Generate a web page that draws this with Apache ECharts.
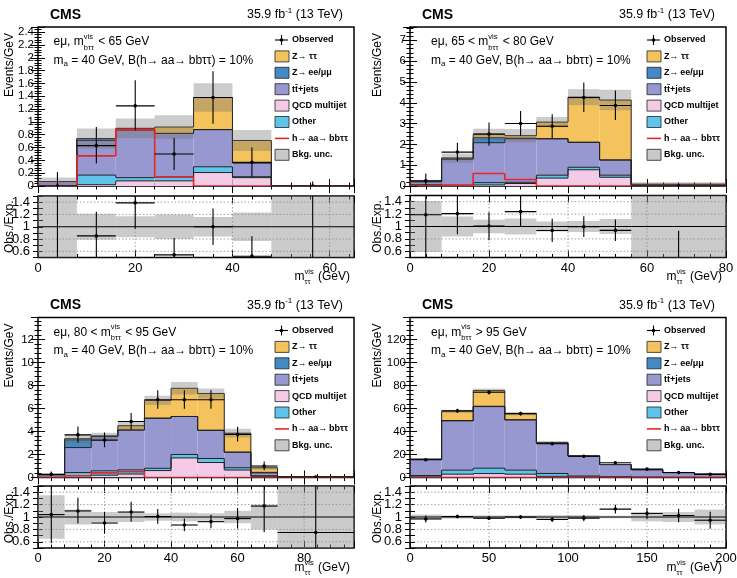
<!DOCTYPE html>
<html>
<head>
<meta charset="utf-8">
<script src="https://cdn.jsdelivr.net/npm/echarts@6/dist/echarts.min.js"></script>
<style>
html, body { margin: 0; background: #fff; }
#chart { width: 737px; height: 578px; }
</style>
</head>
<body>
<div id="chart"></div>
<script>
// ---- panel 1 : m_btt^vis < 65 GeV (events / GeV)
var edges1  = [0, 8, 16, 24, 32, 40, 48, 65];
var qcd1    = [0.0, 0.02, 0.08, 0.08, 0.21, 0.13, 0.0];
var oth1    = [0.0, 0.15, 0.05, 0.06, 0.09, 0.015, 0.0];
var tt1     = [0.07, 0.54, 0.74, 0.68, 0.58, 0.215, 0.004];
var zll1    = [0.0, 0.03, 0.02, 0.0, 0.0, 0.0, 0.0];
var ztt1    = [0.0, 0.0, 0.01, 0.10, 0.50, 0.35, 0.0];
var sig1    = [0.0, 0.47, 0.88, 0.14, 0.0, 0.0, 0.0];
var obs1    = [0.0, 0.63, 1.25, 0.50, 1.38, 0.37, 0.0];
var errLo1  = [0.0, 0.28, 0.38, 0.25, 0.41, 0.22, 0.0];
var errHi1  = [0.22, 0.29, 0.40, 0.25, 0.41, 0.23, 0.07];
var unc1    = [0.9, 0.21, 0.17, 0.20, 0.16, 0.23, 1.0];

// ---- panel 2 : 65 < m_btt^vis < 80 GeV
var edges2  = [0, 8, 16, 24, 32, 40, 48, 56, 80];
var qcd2    = [0.02, 0.01, 0.05, 0.12, 0.38, 0.78, 0.42, 0.0];
var oth2    = [0.04, 0.03, 0.11, 0.06, 0.14, 0.12, 0.10, 0.0];
var tt2     = [0.15, 1.25, 1.92, 2.09, 1.75, 1.20, 0.73, 0.05];
var zll2    = [0.0, 0.01, 0.24, 0.03, 0.0, 0.0, 0.0, 0.0];
var ztt2    = [0.0, 0.05, 0.16, 0.12, 0.80, 2.17, 2.88, 0.04];
var sig2    = [0.0, 0.03, 0.60, 0.31, 0.0, 0.0, 0.0, 0.0];
var obs2    = [0.25, 1.63, 2.50, 3.00, 2.87, 4.25, 3.87, 0.0];
var errLo2  = [0.20, 0.45, 0.57, 0.60, 0.57, 0.70, 0.70, 0.0];
var errHi2  = [0.35, 0.45, 0.55, 0.60, 0.58, 0.72, 0.72, 0.084];
var unc2    = [0.41, 0.16, 0.11, 0.13, 0.08, 0.09, 0.12, 1.0];

// ---- panel 3 : 80 < m_btt^vis < 95 GeV
var edges3  = [0, 8, 16, 24, 32, 40, 48, 56, 64, 72, 95];
var qcd3    = [0.0, 0.15, 0.20, 0.30, 0.60, 1.70, 1.30, 0.65, 0.10, 0.0];
var oth3    = [0.02, 0.28, 0.38, 0.36, 0.20, 0.30, 0.35, 0.20, 0.05, 0.0];
var tt3     = [0.22, 2.17, 2.97, 3.47, 4.35, 3.30, 2.45, 1.35, 0.25, 0.04];
var zll3    = [0.0, 0.67, 0.05, 0.0, 0.0, 0.0, 0.0, 0.0, 0.05, 0.0];
var ztt3    = [0.02, 0.10, 0.0, 0.37, 1.55, 2.45, 3.20, 1.65, 0.40, 0.02];
var sig3    = [0.0, 0.15, 0.40, 0.50, 0.0, 0.0, 0.0, 0.0, 0.0, 0.0];
var obs3    = [0.27, 3.70, 3.25, 4.86, 6.75, 6.75, 6.75, 3.75, 1.00, 0.045];
var errLo3  = [0.12, 0.68, 0.62, 0.70, 0.78, 0.78, 0.78, 0.62, 0.36, 0.04];
var errHi3  = [0.25, 0.72, 0.65, 0.75, 0.82, 0.82, 0.82, 0.66, 0.40, 0.10];
var unc3    = [0.35, 0.12, 0.08, 0.08, 0.06, 0.07, 0.06, 0.10, 0.20, 1.0];

// ---- panel 4 : m_btt^vis > 95 GeV
var edges4  = [0, 20, 40, 60, 80, 100, 120, 140, 160, 180, 200];
var qcd4    = [0.5, 2.9, 3.4, 2.9, 1.0, 0.4, 0.2, 0.1, 0.05, 0.05];
var oth4    = [1.2, 3.5, 4.7, 3.5, 2.5, 0.9, 0.5, 0.3, 0.2, 0.1];
var tt4     = [14.0, 42.8, 53.5, 43.6, 26.3, 17.3, 10.5, 6.4, 4.0, 2.7];
var zll4    = [0.1, 0.3, 0.3, 0.2, 0.1, 0.05, 0.05, 0.0, 0.0, 0.0];
var ztt4    = [0.1, 8.0, 13.6, 5.3, 0.6, 0.2, 0.1, 0.1, 0.05, 0.05];
var sig4    = [0.0, 0.0, 0.0, 0.0, 0.0, 0.0, 0.0, 0.0, 0.0, 0.0];
var obs4    = [15.4, 58.0, 74.0, 55.5, 29.3, 18.5, 12.8, 7.3, 4.4, 2.75];
var errLo4  = [0.9, 1.7, 1.9, 1.7, 1.2, 0.95, 0.8, 0.6, 0.47, 0.4];
var errHi4  = [0.9, 1.7, 1.9, 1.7, 1.2, 0.95, 0.8, 0.6, 0.47, 0.4];
var unc4    = [0.04, 0.025, 0.025, 0.025, 0.03, 0.03, 0.02, 0.07, 0.08, 0.12];

// axis ranges / ticks
var xMaxes  = [65, 80, 95, 200];
var xSteps  = [20, 20, 20, 50];
var yMaxes  = [2.48, 7.64, 13.9, 139];
var ySteps  = [0.2, 1, 2, 20];
var ratioMin = 0.5, ratioMax = 1.5, ratioStep = 0.1;
var ratioGrid = [0.6, 0.8, 1.2, 1.4];

// text
var cutPre  = ['e\u03bc, m', 'e\u03bc, 65 < m', 'e\u03bc, 80 < m', 'e\u03bc, m'];
var cutPost = [' < 65 GeV', ' < 80 GeV', ' < 95 GeV', ' > 95 GeV'];
var legendLabels = ['Observed', 'Z\u2192 \u03c4\u03c4', 'Z\u2192\u2009ee/\u03bc\u03bc', 'tt\u0304+jets',
                    'QCD multijet', 'Other', 'h\u2192\u2009aa\u2192\u2009bb\u03c4\u03c4', 'Bkg. unc.'];
var legendKeys = ['obs', 'ztt', 'zll', 'tt', 'qcd', 'oth', 'sig', 'unc'];

var panels = [
    {edges: edges1, qcd: qcd1, oth: oth1, tt: tt1, zll: zll1, ztt: ztt1, sig: sig1, obs: obs1, lo: errLo1, hi: errHi1, unc: unc1},
    {edges: edges2, qcd: qcd2, oth: oth2, tt: tt2, zll: zll2, ztt: ztt2, sig: sig2, obs: obs2, lo: errLo2, hi: errHi2, unc: unc2},
    {edges: edges3, qcd: qcd3, oth: oth3, tt: tt3, zll: zll3, ztt: ztt3, sig: sig3, obs: obs3, lo: errLo3, hi: errHi3, unc: unc3},
    {edges: edges4, qcd: qcd4, oth: oth4, tt: tt4, zll: zll4, ztt: ztt4, sig: sig4, obs: obs4, lo: errLo4, hi: errHi4, unc: unc4}
];

// pixel layout of each pad
var layout = [
    {left: 38,  top: 27,    w: 316, h: 159, rTop: 196,   rH: 61.5, yTitleX: 10,  infoDx: 15.5},
    {left: 410, top: 27,    w: 316, h: 159, rTop: 195.5, rH: 62,   yTitleX: 378, infoDx: 21},
    {left: 38,  top: 317.5, w: 316, h: 160, rTop: 486,   rH: 62,   yTitleX: 10,  infoDx: 15.5},
    {left: 410, top: 317.5, w: 316, h: 160, rTop: 486,   rH: 62,   yTitleX: 378, infoDx: 21}
];

var FONT = '"Liberation Sans", Arial, Helvetica, sans-serif';
var COLORS = {qcd: '#f3cbe6', oth: '#5ec4ea', tt: '#9898d0', zll: '#4489c6', ztt: '#f4c35e',
              sig: '#e8252b', unc: 'rgba(110,110,110,0.35)'};

var chart = echarts.init(document.getElementById('chart'));

function fmtStep(step) {
    return function (v) {
        var k = v / step;
        if (Math.abs(k - Math.round(k)) > 1e-6) return '';
        return String(+(Math.round(k) * step).toFixed(4));
    };
}
function ratioFmt(v) {
    var r = Math.round(v * 10);
    if (r % 2 !== 0 || r < 6 || r > 14) return '';
    return String(r / 10);
}

// ---- renderers
function fillRect(color) {
    return function (params, api) {
        var a = api.coord([api.value(0), api.value(2)]);
        var b = api.coord([api.value(1), api.value(3)]);
        return {type: 'rect', shape: {x: a[0], y: b[1], width: b[0] - a[0], height: a[1] - b[1]},
                style: {fill: color}};
    };
}
function stepLine(color, width) {
    return function (params, api) {
        var x0 = api.value(0), x1 = api.value(1), t = api.value(2), pt = api.value(3);
        var pts = [api.coord([x0, pt]), api.coord([x0, t]), api.coord([x1, t])];
        if (api.value(4)) pts.push(api.coord([x1, 0]));
        return {type: 'polyline', shape: {points: pts}, style: {stroke: color, lineWidth: width, fill: null}};
    };
}
function errPoint(params, api) {
    var x0 = api.value(0), x1 = api.value(1), y = api.value(2), lo = api.value(3), hi = api.value(4);
    var xc = (x0 + x1) / 2;
    var pL = api.coord([x0, y]), pR = api.coord([x1, y]);
    var pB = api.coord([xc, y - lo]), pT = api.coord([xc, y + hi]), pC = api.coord([xc, y]);
    var st = {stroke: '#000', lineWidth: 1.1};
    return {type: 'group', children: [
        {type: 'line', shape: {x1: pL[0], y1: pL[1], x2: pR[0], y2: pR[1]}, style: st},
        {type: 'line', shape: {x1: pB[0], y1: pB[1], x2: pT[0], y2: pT[1]}, style: st},
        {type: 'circle', shape: {cx: pC[0], cy: pC[1], r: 1.8}, style: {fill: '#000'}}
    ]};
}
function gridLine(params, api) {
    var a = api.coord([api.value(0), api.value(1)]);
    var b = api.coord([api.value(2), api.value(3)]);
    var solid = api.value(4) === 1;
    return {type: 'line', shape: {x1: a[0], y1: a[1], x2: b[0], y2: b[1]},
            style: {stroke: solid ? '#000' : '#8a8a8a', lineWidth: solid ? 1 : 0.8,
                    lineDash: solid ? null : [1.5, 2]}};
}

var grids = [], xAxes = [], yAxes = [], series = [];

function tickCommon() {
    return {
        axisLine: {show: false},
        splitLine: {show: false},
        axisTick: {show: true, inside: true, length: 7, lineStyle: {color: '#000', width: 1}},
        minorTick: {show: true, splitNumber: 5, length: 3.5, lineStyle: {color: '#000', width: 1}}
    };
}

panels.forEach(function (P, p) {
    var L = layout[p];
    var gm = 2 * p, gr = 2 * p + 1;
    // every grid owns two x axes (bottom, top) and two y axes (left, right)
    var am = 2 * gm, ar = 2 * gr;
    var nb = P.edges.length - 1;

    grids.push({left: L.left, top: L.top, width: L.w, height: L.h, show: true,
                borderColor: '#000', borderWidth: 1.5, outerBoundsMode: 'none'});
    grids.push({left: L.left, top: L.rTop, width: L.w, height: L.rH, show: true,
                borderColor: '#000', borderWidth: 1.5, outerBoundsMode: 'none'});

    [gm, gr].forEach(function (g) {
        var isRatio = g === gr;
        var base = {gridIndex: g, type: 'value', min: 0, max: xMaxes[p], interval: xSteps[p]};
        xAxes.push(Object.assign({}, base, tickCommon(), {position: 'bottom',
            axisLabel: {show: isRatio, margin: 4, fontSize: 13, color: '#000', fontFamily: FONT,
                        formatter: fmtStep(xSteps[p])}}));
        xAxes.push(Object.assign({}, base, tickCommon(), {position: 'top', axisLabel: {show: false}}));
        var yb = isRatio
            ? {gridIndex: g, type: 'value', min: ratioMin, max: ratioMax, interval: ratioStep}
            : {gridIndex: g, type: 'value', min: 0, max: yMaxes[p], interval: ySteps[p]};
        var yl = tickCommon();
        if (isRatio) { yl.axisTick.length = 5; yl.minorTick.show = false; }
        yAxes.push(Object.assign({}, yb, yl, {position: 'left',
            axisLabel: {show: true, margin: isRatio ? 8 : 4, fontSize: isRatio ? 13 : 11.5, color: '#000',
                        fontFamily: FONT, formatter: isRatio ? ratioFmt : fmtStep(ySteps[p])}}));
        var yr = tickCommon();
        if (isRatio) { yr.axisTick.length = 5; yr.minorTick.show = false; }
        yAxes.push(Object.assign({}, yb, yr, {position: 'right', axisLabel: {show: false}}));
    });

    // stacked backgrounds, bottom to top
    var total = [], cum = [];
    for (var i = 0; i < nb; i++) {
        total.push(P.qcd[i] + P.oth[i] + P.tt[i] + P.zll[i] + P.ztt[i]);
        cum.push(0);
    }
    var outlineData = [];
    ['qcd', 'oth', 'tt', 'zll', 'ztt'].forEach(function (key) {
        var items = [];
        for (var i = 0; i < nb; i++) {
            items.push([P.edges[i], P.edges[i + 1], cum[i], cum[i] + P[key][i]]);
            cum[i] += P[key][i];
        }
        series.push({type: 'custom', xAxisIndex: am, yAxisIndex: am, clip: true, silent: true, z: 2,
                     data: items, renderItem: fillRect(COLORS[key])});
        for (var j = 0; j < nb; j++) {
            outlineData.push([P.edges[j], P.edges[j + 1], cum[j], j > 0 ? cum[j - 1] : 0, j === nb - 1 ? 1 : 0]);
        }
    });
    series.push({type: 'custom', xAxisIndex: am, yAxisIndex: am, clip: true, silent: true, z: 3,
                 data: outlineData, renderItem: stepLine('#222', 1)});

    // background uncertainty band, signal, observed
    var bandMain = [], bandRatio = [], sigData = [], obsMain = [], obsRatio = [];
    for (var k = 0; k < nb; k++) {
        var x0 = P.edges[k], x1 = P.edges[k + 1], t = total[k];
        bandMain.push([x0, x1, t * (1 - P.unc[k]), t * (1 + P.unc[k])]);
        bandRatio.push([x0, x1, 1 - P.unc[k], 1 + P.unc[k]]);
        sigData.push([x0, x1, P.sig[k], k > 0 ? P.sig[k - 1] : 0, k === nb - 1 ? 1 : 0]);
        obsMain.push([x0, x1, P.obs[k], P.lo[k], P.hi[k]]);
        obsRatio.push([x0, x1, P.obs[k] / t, P.lo[k] / t, P.hi[k] / t]);
    }
    series.push({type: 'custom', xAxisIndex: am, yAxisIndex: am, clip: true, silent: true, z: 4,
                 data: bandMain, renderItem: fillRect(COLORS.unc)});
    series.push({type: 'custom', xAxisIndex: am, yAxisIndex: am, clip: true, silent: true, z: 5,
                 data: sigData, renderItem: stepLine(COLORS.sig, 1.6)});
    series.push({type: 'custom', xAxisIndex: am, yAxisIndex: am, clip: true, silent: true, z: 6,
                 data: obsMain, renderItem: errPoint});

    // ratio pad
    var gl = [];
    ratioGrid.forEach(function (v) { gl.push([0, v, xMaxes[p], v, 0]); });
    for (var xv = xSteps[p]; xv < xMaxes[p]; xv += xSteps[p]) gl.push([xv, ratioMin, xv, ratioMax, 0]);
    gl.push([0, 1, xMaxes[p], 1, 1]);
    series.push({type: 'custom', xAxisIndex: ar, yAxisIndex: ar, clip: true, silent: true, z: 2,
                 data: bandRatio, renderItem: fillRect('rgba(130,130,130,0.42)')});
    series.push({type: 'custom', xAxisIndex: ar, yAxisIndex: ar, clip: true, silent: true, z: 3,
                 data: gl, renderItem: gridLine});
    series.push({type: 'custom', xAxisIndex: ar, yAxisIndex: ar, clip: true, silent: true, z: 6,
                 data: obsRatio, renderItem: errPoint});
});

// ---- text helpers
var mctx = document.createElement('canvas').getContext('2d');
function measure(t, s, bold) {
    mctx.font = (bold ? 'bold ' : '') + s + 'px ' + FONT;
    return mctx.measureText(t).width;
}
function txt(x, y, t, s, bold, extra) {
    return {type: 'text', x: x, y: y, silent: true, z: 100,
            style: Object.assign({text: t, fontSize: s, fontFamily: FONT, fontWeight: bold ? 'bold' : 'normal',
                                  fill: '#000', align: 'left', verticalAlign: 'middle'}, extra || {})};
}
function partW(q) {
    if (q.sup !== undefined || q.sub !== undefined) {
        return Math.max(measure(q.sup || '', q.s), measure(q.sub || '', q.s)) + 1;
    }
    return measure(q.t, q.s, q.bold);
}
function run(x, y, parts, alignRight) {
    var w = 0;
    parts.forEach(function (q) { w += partW(q); });
    var cx = alignRight ? x - w : x, out = [];
    parts.forEach(function (q) {
        if (q.sup !== undefined || q.sub !== undefined) {
            if (q.sup) out.push(txt(cx, y - q.off, q.sup, q.s));
            if (q.sub) out.push(txt(cx, y + q.off, q.sub, q.s));
        } else {
            out.push(txt(cx, y + (q.dy || 0), q.t, q.s, q.bold));
        }
        cx += partW(q);
    });
    return out;
}

var elements = [];
layout.forEach(function (L, p) {
    var right = L.left + L.w;
    elements.push(txt(L.left + 12, L.top - 12, 'CMS', 14, true));
    elements = elements.concat(run(right - 11, L.top - 12, [
        {t: '35.9 fb', s: 12.5}, {t: '-1', s: 8, dy: -4.5}, {t: ' (13 TeV)', s: 12.5}], true));

    var ix = L.left + L.infoDx;
    elements = elements.concat(run(ix, L.top + 15, [
        {t: cutPre[p], s: 12}, {sup: 'vis', sub: 'b\u03c4\u03c4', s: 7.5, off: 5.5}, {t: cutPost[p], s: 12}]));
    elements = elements.concat(run(ix, L.top + 33.5, [
        {t: 'm', s: 12}, {t: 'a', s: 8, dy: 3.5},
        {t: ' = 40 GeV, B(h\u2192\u2009aa\u2192\u2009bb\u03c4\u03c4) = 10%', s: 12}]));

    // legend
    var lx = L.left + 237;
    legendLabels.forEach(function (lab, k) {
        var y = L.top + 13 + k * 16.4, key = legendKeys[k];
        if (key === 'obs') {
            elements.push({type: 'line', silent: true, z: 100, shape: {x1: lx, y1: y, x2: lx + 13, y2: y}, style: {stroke: '#000', lineWidth: 1.1}});
            elements.push({type: 'line', silent: true, z: 100, shape: {x1: lx + 6.5, y1: y - 5, x2: lx + 6.5, y2: y + 5}, style: {stroke: '#000', lineWidth: 1.1}});
            elements.push({type: 'circle', silent: true, z: 100, shape: {cx: lx + 6.5, cy: y, r: 1.8}, style: {fill: '#000'}});
        } else if (key === 'sig') {
            elements.push({type: 'line', silent: true, z: 100, shape: {x1: lx, y1: y, x2: lx + 14, y2: y}, style: {stroke: COLORS.sig, lineWidth: 1.6}});
        } else {
            elements.push({type: 'rect', silent: true, z: 100, shape: {x: lx, y: y - 5.5, width: 14, height: 11},
                           style: {fill: key === 'unc' ? '#c8c8c8' : COLORS[key], stroke: '#222', lineWidth: 0.8}});
        }
        elements.push(txt(lx + 17, y, lab, 9, true));
    });

    // axis titles
    var yt = txt(L.yTitleX, L.top + 6, 'Events/GeV', 12, false, {align: 'right'});
    yt.rotation = Math.PI / 2;
    elements.push(yt);
    var rt = txt(L.yTitleX, L.rTop + L.rH / 2, 'Obs./Exp.', 12, false, {align: 'center'});
    rt.rotation = Math.PI / 2;
    elements.push(rt);
    elements = elements.concat(run(right - 4, L.rTop + L.rH + 19.5, [
        {t: 'm', s: 12}, {sup: 'vis', sub: '\u03c4\u03c4', s: 7.5, off: 5}, {t: ' (GeV)', s: 12}], true));
});

var option = {
    animation: false,
    grid: grids,
    xAxis: xAxes,
    yAxis: yAxes,
    series: series,
    graphic: {elements: elements}
};

chart.setOption(option);
</script>
</body>
</html>
